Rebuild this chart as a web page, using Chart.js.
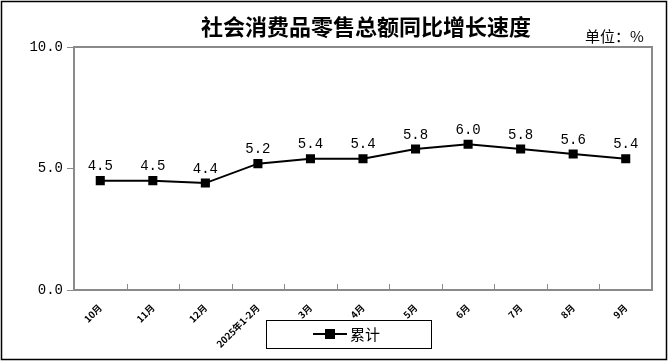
<!DOCTYPE html>
<html><head><meta charset="utf-8">
<script src="https://cdn.jsdelivr.net/npm/chart.js@4"></script>
<style>html,body{margin:0;padding:0;background:#fff}#wrap{width:669px;height:362px;position:relative}</style>
</head><body><div id="wrap"><canvas id="c" width="669" height="362"></canvas></div>
<script>
const categories = ['10月','11月','12月','2025年1-2月','3月','4月','5月','6月','7月','8月','9月'];
const cumulative = [4.5,4.5,4.4,5.2,5.4,5.4,5.8,6.0,5.8,5.6,5.4];
const yTicks = [0,5,10];
const titleText = '社会消费品零售总额同比增长速度';
const unitText = '单位：%';
const seriesName = '累计';

const deco = {
  id:'deco',
  afterDraw(chart){
    const ctx = chart.ctx, a = chart.chartArea, xs = chart.scales.x;
    ctx.save();
    ctx.strokeStyle='#8a8a8a'; ctx.lineWidth=2;
    ctx.strokeRect(a.left, a.top, a.right-a.left, a.bottom-a.top);
    ctx.lineWidth=1;
    for(let i=0;i<categories.length-1;i++){
      const x = Math.round((xs.getPixelForValue(i)+xs.getPixelForValue(i+1))/2)+0.5;
      ctx.beginPath(); ctx.moveTo(x,a.bottom); ctx.lineTo(x,a.bottom-6); ctx.stroke();
    }
    const meta = chart.getDatasetMeta(0);
    ctx.fillStyle='#000'; ctx.font='14px "Liberation Mono", "DejaVu Sans Mono", monospace';
    ctx.textAlign='center'; ctx.textBaseline='bottom';
    meta.data.forEach((p,i)=>{ ctx.fillText(cumulative[i].toFixed(1), p.x, p.y-7); });
    ctx.font='bold 22px "Noto Sans CJK SC", sans-serif';
    ctx.textBaseline='middle';
    ctx.fillText(titleText, 366, 27);
    ctx.font='15px "Noto Sans CJK SC", sans-serif';
    ctx.textAlign='left';
    ctx.fillText(unitText, 585, 36);
    ctx.strokeStyle='#000'; ctx.lineWidth=1;
    ctx.strokeRect(266.5, 320.5, 165, 28);
    ctx.lineWidth=2; ctx.beginPath(); ctx.moveTo(313,334); ctx.lineTo(347,334); ctx.stroke();
    ctx.fillRect(325,329,10,10);
    ctx.font='15px "Noto Sans CJK SC", sans-serif';
    ctx.fillText(seriesName, 350, 334);
    ctx.lineWidth=1.5;
    ctx.strokeRect(1.5,1.5,665,358);
    ctx.restore();
  }
};

new Chart(document.getElementById('c'),{
  type:'line',
  data:{labels:categories,datasets:[{label:seriesName,data:cumulative,borderColor:'#000',borderWidth:2,
    pointStyle:'rect',pointRadius:5,pointHoverRadius:5,pointBackgroundColor:'#000',pointBorderColor:'#000',tension:0}]},
  options:{
    responsive:false,animation:false,
    layout:{padding:{left:0,right:17,top:47,bottom:0}},
    plugins:{legend:{display:false},tooltip:{enabled:false}},
    scales:{
      x:{offset:true,
        grid:{display:false},border:{display:false},
        ticks:{autoSkip:false,minRotation:45,maxRotation:45,padding:4,color:'#000',
          font:{family:'"Noto Sans CJK SC", sans-serif',size:9.5,weight:'bold'}},
        afterFit(s){ s.height = 72; }
      },
      y:{min:0,max:10,
        afterBuildTicks(s){ s.ticks = yTicks.map(v=>({value:v})); },
        grid:{drawOnChartArea:false,drawTicks:true,tickLength:7,color:'#8a8a8a'},
        border:{display:false},
        ticks:{padding:4,color:'#000',font:{family:'"Liberation Mono", "DejaVu Sans Mono", monospace',size:14},
          callback:v=>Number(v).toFixed(1)},
        afterFit(s){ s.width = 74; }
      }
    }
  },
  plugins:[deco]
});
</script></body></html>
